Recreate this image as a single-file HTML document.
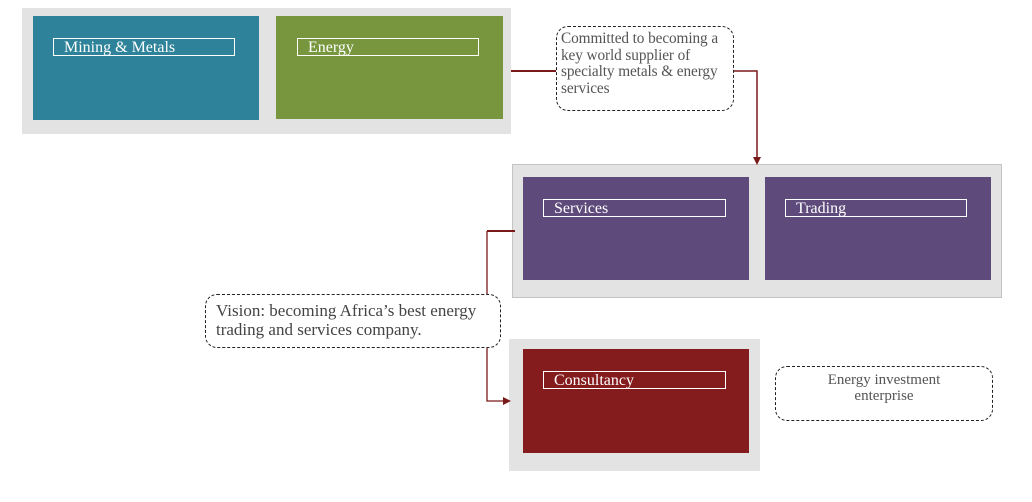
<!DOCTYPE html>
<html><head><style>
body{margin:0;width:1032px;height:502px;background:#fff;position:relative;overflow:hidden;font-family:"Liberation Serif",serif}
div{position:absolute;box-sizing:border-box}
.bg{background:#e3e3e3}
.lb{border:1px solid #fff;color:#fff;font-size:16px;line-height:17px;padding-left:10px}
.co{border:1.3px dashed #222;border-radius:12px;color:#555;background:#fff}
</style></head><body>
<div class="bg" style="left:22px;top:8px;width:489px;height:126px"></div>
<div style="left:33px;top:16px;width:226px;height:104px;background:#2e8299"></div>
<div class="lb" style="left:53px;top:38px;width:182px;height:18px">Mining &amp; Metals</div>
<div style="left:276px;top:16px;width:227px;height:103px;background:#77963d"></div>
<div class="lb" style="left:297px;top:38px;width:182px;height:18px">Energy</div>

<div class="bg" style="left:512px;top:164px;width:490px;height:134px;border:1px solid #c3c3c3"></div>
<div style="left:523px;top:177px;width:226px;height:103px;background:#5e4a7b"></div>
<div class="lb" style="left:543px;top:199px;width:183px;height:18px">Services</div>
<div style="left:765px;top:177px;width:226px;height:103px;background:#5e4a7b"></div>
<div class="lb" style="left:785px;top:199px;width:182px;height:18px">Trading</div>

<div class="bg" style="left:509px;top:339px;width:251px;height:132px"></div>
<div style="left:523px;top:349px;width:226px;height:104px;background:#841b1d"></div>
<div class="lb" style="left:543px;top:371px;width:183px;height:18px">Consultancy</div>

<svg style="position:absolute;left:0;top:0" width="1032" height="502">
<g stroke="#7a1a1a" stroke-width="2" fill="none">
<line x1="511" y1="71" x2="557" y2="71"/>
<polyline points="733,71 757,71 757,158" stroke-width="1.5"/>
<line x1="487" y1="231" x2="515" y2="231"/>
<polyline points="487,231 487,401 505,401" stroke-width="1.3"/>
</g>
<polygon points="753,157 761,157 757,165" fill="#7a1a1a"/>
<polygon points="503,397 511,401 503,405" fill="#7a1a1a"/>
</svg>

<div class="co" style="left:556px;top:26px;width:178px;height:85px;padding:4px 0 0 4px;font-size:15.3px;line-height:16.5px;letter-spacing:-0.1px">Committed to becoming a key world supplier of specialty metals &amp; energy services</div>
<div class="co" style="left:205px;top:294px;width:296px;height:54px;padding:6px 0 0 10px;font-size:17px;line-height:19px;color:#444">Vision: becoming Africa’s best energy trading and services company.</div>
<div class="co" style="left:775px;top:366px;width:218px;height:55px;padding:5px 0 0 0;text-align:center;font-size:15px;line-height:16px">Energy investment<br>enterprise</div>
</body></html>
